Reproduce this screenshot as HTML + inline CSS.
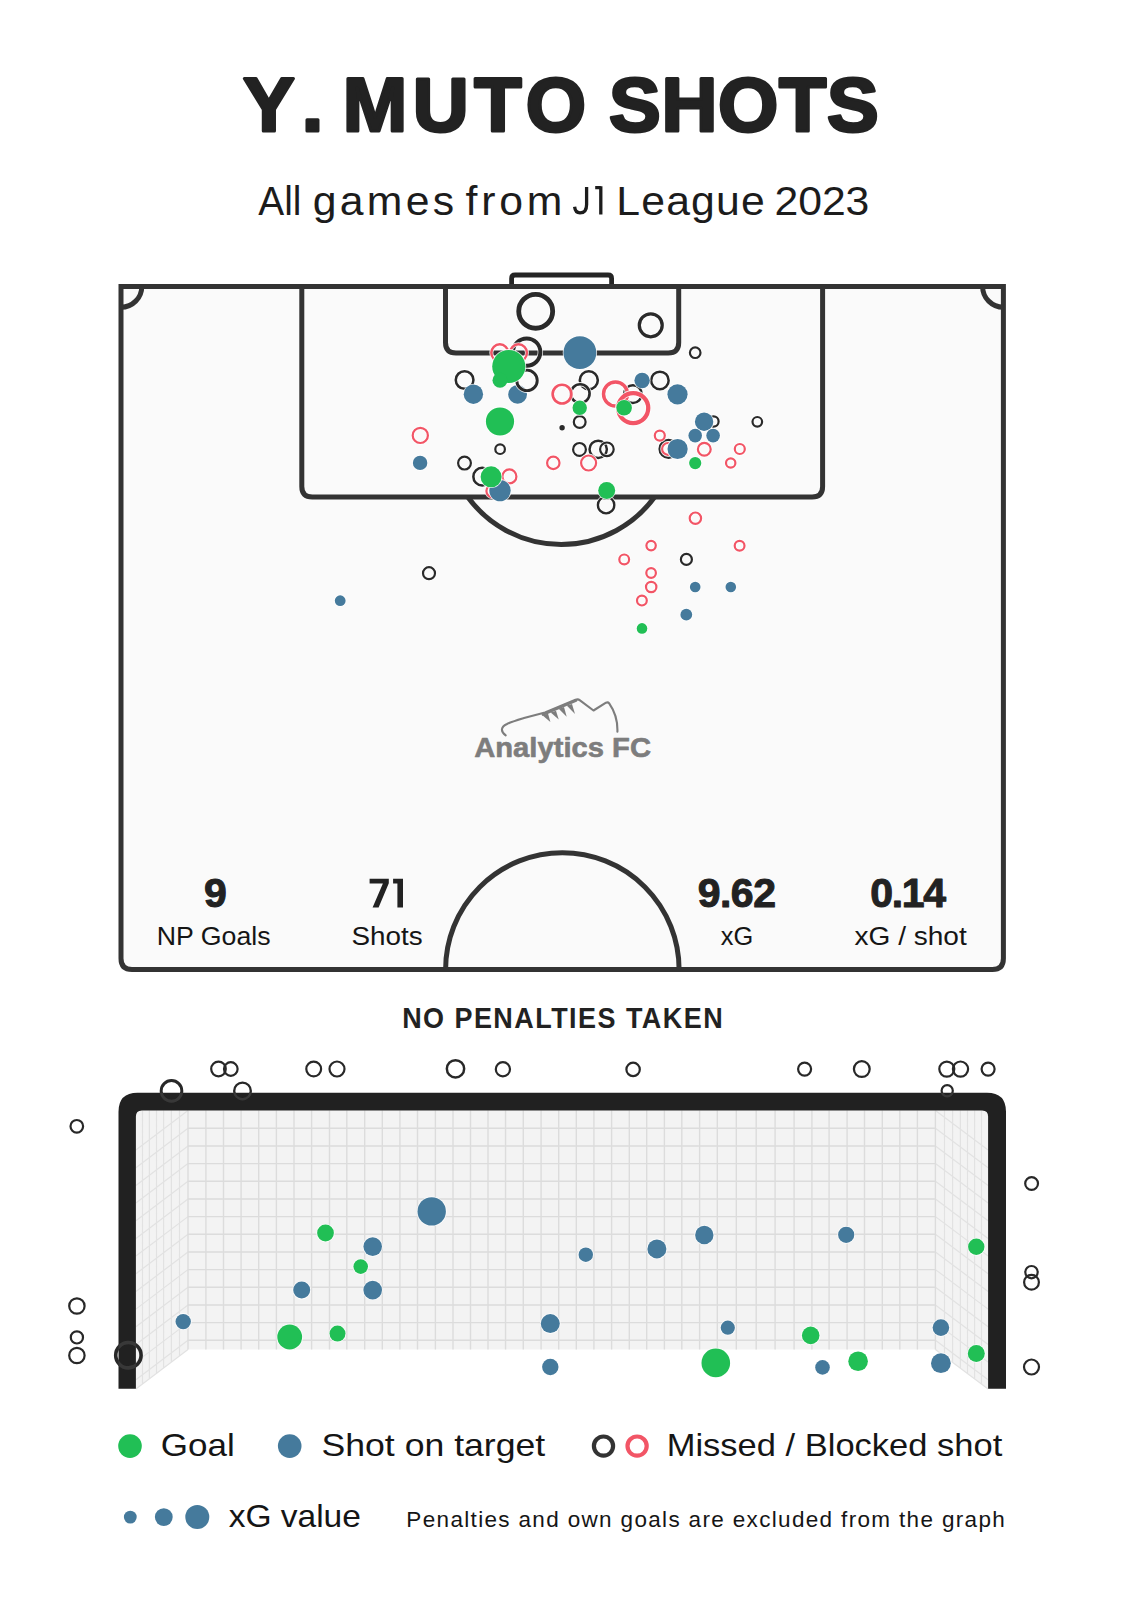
<!DOCTYPE html>
<html><head><meta charset="utf-8"><style>
html,body{margin:0;padding:0;background:#fff;}
body{width:1124px;height:1600px;overflow:hidden;font-family:"Liberation Sans",sans-serif;}
svg{display:block;}
</style></head><body>
<svg width="1124" height="1600" viewBox="0 0 1124 1600">
<rect width="1124" height="1600" fill="#ffffff"/>
<rect x="121.0" y="286.4" width="882.4" height="683.1" fill="#fafafa"/>
<path d="M511.6 286.4 V278.5 Q511.6 275 515.1 275 H608.1 Q611.6 275 611.6 278.5 V286.4" fill="none" stroke="#252525" stroke-width="4.8"/>
<path d="M121.0 286.4 H1003.4 V958.5 Q1003.4 969.5 992.4 969.5 H132.0 Q121.0 969.5 121.0 958.5 Z" fill="none" stroke="#333333" stroke-width="5.0" stroke-linejoin="miter"/>
<path d="M141.8 286.4 A20.8 20.8 0 0 1 121.0 307.2" fill="none" stroke="#333333" stroke-width="5.0"/>
<path d="M982.6 286.4 A20.8 20.8 0 0 0 1003.4 307.2" fill="none" stroke="#333333" stroke-width="5.0"/>
<path d="M301.8 286.4 V486.5 Q301.8 497 312.3 497 H812.1 Q822.6 497 822.6 486.5 V286.4" fill="none" stroke="#333333" stroke-width="5.0"/>
<path d="M445.5 286.4 V342.5 Q445.5 353 456.0 353 H668.2 Q678.7 353 678.7 342.5 V286.4" fill="none" stroke="#333333" stroke-width="5.0"/>
<path d="M467.8 497 A115.6 115.6 0 0 0 654.6 497" fill="none" stroke="#333333" stroke-width="5.0"/>
<path d="M445.6 969.5 A116.7 116.7 0 0 1 679.1 969.5" fill="none" stroke="#333333" stroke-width="5.0"/>
<g fill="none" stroke="#7d7d7d" stroke-width="2.1" stroke-linecap="round" stroke-linejoin="round"><path d="M505.7 735.4 C500.5 731.5 500.5 727 507 724 C512 721.5 518 719.8 524 718 L545 712.5 L575.5 699.8 Q578 698.8 580 700.3 L593.5 710.5 L606 702.7 Q608 701.8 609.2 703.4 C614.5 711 617.8 720 617.4 731.7"/><path d="M543 714.5 L576 700.5" stroke-width="2.8"/></g>
<g fill="#7d7d7d"><path d="M542.7 715.6 L548 713.5 L550.4 722 Z"/><path d="M550.7 712.4 L556 710.8 L558.7 719.4 Z"/><path d="M558.7 708.7 L564 707.1 L566.7 716.7 Z"/><path d="M566.7 705.5 L572 703.9 L575 714 Z"/></g>
<circle cx="535.7" cy="311.3" r="16.97" fill="none" stroke="#ffffff" stroke-opacity="0.85" stroke-width="6.45"/><circle cx="535.7" cy="311.3" r="16.97" fill="none" stroke="#2a2a2a" stroke-width="4.85"/>
<circle cx="650.75" cy="325.3" r="11.46" fill="none" stroke="#ffffff" stroke-opacity="0.85" stroke-width="4.88"/><circle cx="650.75" cy="325.3" r="11.46" fill="none" stroke="#2a2a2a" stroke-width="3.27"/>
<circle cx="695.2" cy="352.7" r="5.30" fill="none" stroke="#ffffff" stroke-opacity="0.85" stroke-width="3.80"/><circle cx="695.2" cy="352.7" r="5.30" fill="none" stroke="#2a2a2a" stroke-width="2.20"/>
<circle cx="526.7" cy="352.1" r="13.65" fill="none" stroke="#ffffff" stroke-opacity="0.85" stroke-width="5.50"/><circle cx="526.7" cy="352.1" r="13.65" fill="none" stroke="#2a2a2a" stroke-width="3.90"/>
<circle cx="464.6" cy="380" r="8.84" fill="none" stroke="#ffffff" stroke-opacity="0.85" stroke-width="4.12"/><circle cx="464.6" cy="380" r="8.84" fill="none" stroke="#2a2a2a" stroke-width="2.52"/>
<circle cx="588.8" cy="380.2" r="9.01" fill="none" stroke="#ffffff" stroke-opacity="0.85" stroke-width="4.18"/><circle cx="588.8" cy="380.2" r="9.01" fill="none" stroke="#2a2a2a" stroke-width="2.58"/>
<circle cx="580.2" cy="393.6" r="9.36" fill="none" stroke="#ffffff" stroke-opacity="0.85" stroke-width="4.28"/><circle cx="580.2" cy="393.6" r="9.36" fill="none" stroke="#2a2a2a" stroke-width="2.67"/>
<circle cx="579.7" cy="422" r="5.90" fill="none" stroke="#ffffff" stroke-opacity="0.85" stroke-width="3.80"/><circle cx="579.7" cy="422" r="5.90" fill="none" stroke="#2a2a2a" stroke-width="2.20"/>
<circle cx="562.1" cy="427.7" r="3.50" fill="#ffffff" fill-opacity="0.85"/><circle cx="562.1" cy="427.7" r="2.7" fill="#2a2a2a"/>
<circle cx="632.9" cy="394.1" r="8.84" fill="none" stroke="#ffffff" stroke-opacity="0.85" stroke-width="4.12"/><circle cx="632.9" cy="394.1" r="8.84" fill="none" stroke="#2a2a2a" stroke-width="2.52"/>
<circle cx="659.9" cy="380.4" r="8.75" fill="none" stroke="#ffffff" stroke-opacity="0.85" stroke-width="4.10"/><circle cx="659.9" cy="380.4" r="8.75" fill="none" stroke="#2a2a2a" stroke-width="2.50"/>
<circle cx="464.5" cy="463.1" r="6.40" fill="none" stroke="#ffffff" stroke-opacity="0.85" stroke-width="3.80"/><circle cx="464.5" cy="463.1" r="6.40" fill="none" stroke="#2a2a2a" stroke-width="2.20"/>
<circle cx="500.1" cy="449.2" r="4.80" fill="none" stroke="#ffffff" stroke-opacity="0.85" stroke-width="3.80"/><circle cx="500.1" cy="449.2" r="4.80" fill="none" stroke="#2a2a2a" stroke-width="2.20"/>
<circle cx="482.2" cy="476.7" r="8.84" fill="none" stroke="#ffffff" stroke-opacity="0.85" stroke-width="4.12"/><circle cx="482.2" cy="476.7" r="8.84" fill="none" stroke="#2a2a2a" stroke-width="2.52"/>
<circle cx="579.5" cy="449.4" r="6.40" fill="none" stroke="#ffffff" stroke-opacity="0.85" stroke-width="3.80"/><circle cx="579.5" cy="449.4" r="6.40" fill="none" stroke="#2a2a2a" stroke-width="2.20"/>
<circle cx="598.2" cy="449.3" r="8.66" fill="none" stroke="#ffffff" stroke-opacity="0.85" stroke-width="4.08"/><circle cx="598.2" cy="449.3" r="8.66" fill="none" stroke="#2a2a2a" stroke-width="2.48"/>
<circle cx="606.9" cy="449.3" r="6.80" fill="none" stroke="#ffffff" stroke-opacity="0.85" stroke-width="3.80"/><circle cx="606.9" cy="449.3" r="6.80" fill="none" stroke="#2a2a2a" stroke-width="2.20"/>
<circle cx="606.1" cy="505.1" r="8.22" fill="none" stroke="#ffffff" stroke-opacity="0.85" stroke-width="3.95"/><circle cx="606.1" cy="505.1" r="8.22" fill="none" stroke="#2a2a2a" stroke-width="2.35"/>
<circle cx="668.6" cy="448.9" r="8.92" fill="none" stroke="#ffffff" stroke-opacity="0.85" stroke-width="4.15"/><circle cx="668.6" cy="448.9" r="8.92" fill="none" stroke="#2a2a2a" stroke-width="2.55"/>
<circle cx="713.5" cy="421.5" r="5.10" fill="none" stroke="#ffffff" stroke-opacity="0.85" stroke-width="3.80"/><circle cx="713.5" cy="421.5" r="5.10" fill="none" stroke="#2a2a2a" stroke-width="2.20"/>
<circle cx="757.3" cy="421.8" r="4.80" fill="none" stroke="#ffffff" stroke-opacity="0.85" stroke-width="3.80"/><circle cx="757.3" cy="421.8" r="4.80" fill="none" stroke="#2a2a2a" stroke-width="2.20"/>
<circle cx="686.4" cy="559.4" r="5.50" fill="none" stroke="#ffffff" stroke-opacity="0.85" stroke-width="3.80"/><circle cx="686.4" cy="559.4" r="5.50" fill="none" stroke="#2a2a2a" stroke-width="2.20"/>
<circle cx="429" cy="573.2" r="6.00" fill="none" stroke="#ffffff" stroke-opacity="0.85" stroke-width="3.80"/><circle cx="429" cy="573.2" r="6.00" fill="none" stroke="#2a2a2a" stroke-width="2.20"/>
<circle cx="499.8" cy="352.8" r="8.49" fill="none" stroke="#ffffff" stroke-opacity="0.85" stroke-width="4.03"/><circle cx="499.8" cy="352.8" r="8.49" fill="none" stroke="#f25566" stroke-width="2.42"/>
<circle cx="518.5" cy="352.8" r="8.49" fill="none" stroke="#ffffff" stroke-opacity="0.85" stroke-width="4.03"/><circle cx="518.5" cy="352.8" r="8.49" fill="none" stroke="#f25566" stroke-width="2.42"/>
<circle cx="562" cy="394.1" r="9.36" fill="none" stroke="#ffffff" stroke-opacity="0.85" stroke-width="4.28"/><circle cx="562" cy="394.1" r="9.36" fill="none" stroke="#f25566" stroke-width="2.67"/>
<circle cx="615.5" cy="394" r="11.99" fill="none" stroke="#ffffff" stroke-opacity="0.85" stroke-width="5.03"/><circle cx="615.5" cy="394" r="11.99" fill="none" stroke="#f25566" stroke-width="3.42"/>
<circle cx="633.2" cy="408.1" r="15.05" fill="none" stroke="#ffffff" stroke-opacity="0.85" stroke-width="5.90"/><circle cx="633.2" cy="408.1" r="15.05" fill="none" stroke="#f25566" stroke-width="4.30"/>
<circle cx="420.3" cy="435.4" r="7.60" fill="none" stroke="#ffffff" stroke-opacity="0.85" stroke-width="3.80"/><circle cx="420.3" cy="435.4" r="7.60" fill="none" stroke="#f25566" stroke-width="2.20"/>
<circle cx="509.4" cy="476.4" r="7.00" fill="none" stroke="#ffffff" stroke-opacity="0.85" stroke-width="3.80"/><circle cx="509.4" cy="476.4" r="7.00" fill="none" stroke="#f25566" stroke-width="2.20"/>
<circle cx="492.8" cy="491" r="6.40" fill="none" stroke="#ffffff" stroke-opacity="0.85" stroke-width="3.80"/><circle cx="492.8" cy="491" r="6.40" fill="none" stroke="#f25566" stroke-width="2.20"/>
<circle cx="553.3" cy="462.9" r="6.20" fill="none" stroke="#ffffff" stroke-opacity="0.85" stroke-width="3.80"/><circle cx="553.3" cy="462.9" r="6.20" fill="none" stroke="#f25566" stroke-width="2.20"/>
<circle cx="588.6" cy="463" r="7.50" fill="none" stroke="#ffffff" stroke-opacity="0.85" stroke-width="3.80"/><circle cx="588.6" cy="463" r="7.50" fill="none" stroke="#f25566" stroke-width="2.20"/>
<circle cx="659.8" cy="435.6" r="5.00" fill="none" stroke="#ffffff" stroke-opacity="0.85" stroke-width="3.80"/><circle cx="659.8" cy="435.6" r="5.00" fill="none" stroke="#f25566" stroke-width="2.20"/>
<circle cx="668" cy="448.9" r="5.90" fill="none" stroke="#ffffff" stroke-opacity="0.85" stroke-width="3.80"/><circle cx="668" cy="448.9" r="5.90" fill="none" stroke="#f25566" stroke-width="2.20"/>
<circle cx="704.3" cy="449.3" r="6.40" fill="none" stroke="#ffffff" stroke-opacity="0.85" stroke-width="3.80"/><circle cx="704.3" cy="449.3" r="6.40" fill="none" stroke="#f25566" stroke-width="2.20"/>
<circle cx="739.8" cy="449" r="5.00" fill="none" stroke="#ffffff" stroke-opacity="0.85" stroke-width="3.80"/><circle cx="739.8" cy="449" r="5.00" fill="none" stroke="#f25566" stroke-width="2.20"/>
<circle cx="730.7" cy="463" r="4.70" fill="none" stroke="#ffffff" stroke-opacity="0.85" stroke-width="3.80"/><circle cx="730.7" cy="463" r="4.70" fill="none" stroke="#f25566" stroke-width="2.20"/>
<circle cx="695.4" cy="518.2" r="5.70" fill="none" stroke="#ffffff" stroke-opacity="0.85" stroke-width="3.80"/><circle cx="695.4" cy="518.2" r="5.70" fill="none" stroke="#f25566" stroke-width="2.20"/>
<circle cx="651.1" cy="545.6" r="4.70" fill="none" stroke="#ffffff" stroke-opacity="0.85" stroke-width="3.80"/><circle cx="651.1" cy="545.6" r="4.70" fill="none" stroke="#f25566" stroke-width="2.20"/>
<circle cx="739.6" cy="545.7" r="4.90" fill="none" stroke="#ffffff" stroke-opacity="0.85" stroke-width="3.80"/><circle cx="739.6" cy="545.7" r="4.90" fill="none" stroke="#f25566" stroke-width="2.20"/>
<circle cx="624.2" cy="559.4" r="4.90" fill="none" stroke="#ffffff" stroke-opacity="0.85" stroke-width="3.80"/><circle cx="624.2" cy="559.4" r="4.90" fill="none" stroke="#f25566" stroke-width="2.20"/>
<circle cx="651.1" cy="573" r="4.80" fill="none" stroke="#ffffff" stroke-opacity="0.85" stroke-width="3.80"/><circle cx="651.1" cy="573" r="4.80" fill="none" stroke="#f25566" stroke-width="2.20"/>
<circle cx="651.2" cy="587" r="5.20" fill="none" stroke="#ffffff" stroke-opacity="0.85" stroke-width="3.80"/><circle cx="651.2" cy="587" r="5.20" fill="none" stroke="#f25566" stroke-width="2.20"/>
<circle cx="641.9" cy="600.6" r="4.90" fill="none" stroke="#ffffff" stroke-opacity="0.85" stroke-width="3.80"/><circle cx="641.9" cy="600.6" r="4.90" fill="none" stroke="#f25566" stroke-width="2.20"/>
<circle cx="579.9" cy="352.7" r="17.20" fill="#ffffff" fill-opacity="0.85"/><circle cx="579.9" cy="352.7" r="16.4" fill="#457a9c"/>
<circle cx="473.4" cy="394.2" r="10.50" fill="#ffffff" fill-opacity="0.85"/><circle cx="473.4" cy="394.2" r="9.7" fill="#457a9c"/>
<circle cx="517.6" cy="394.4" r="10.20" fill="#ffffff" fill-opacity="0.85"/><circle cx="517.6" cy="394.4" r="9.4" fill="#457a9c"/>
<circle cx="642.1" cy="380.5" r="8.50" fill="#ffffff" fill-opacity="0.85"/><circle cx="642.1" cy="380.5" r="7.7" fill="#457a9c"/>
<circle cx="420.1" cy="462.9" r="8.00" fill="#ffffff" fill-opacity="0.85"/><circle cx="420.1" cy="462.9" r="7.2" fill="#457a9c"/>
<circle cx="500" cy="490.6" r="11.50" fill="#ffffff" fill-opacity="0.85"/><circle cx="500" cy="490.6" r="10.7" fill="#457a9c"/>
<circle cx="677.6" cy="449" r="10.90" fill="#ffffff" fill-opacity="0.85"/><circle cx="677.6" cy="449" r="10.1" fill="#457a9c"/>
<circle cx="677.5" cy="394.3" r="10.90" fill="#ffffff" fill-opacity="0.85"/><circle cx="677.5" cy="394.3" r="10.1" fill="#457a9c"/>
<circle cx="704.1" cy="421.8" r="10.00" fill="#ffffff" fill-opacity="0.85"/><circle cx="704.1" cy="421.8" r="9.2" fill="#457a9c"/>
<circle cx="695.2" cy="435.6" r="7.60" fill="#ffffff" fill-opacity="0.85"/><circle cx="695.2" cy="435.6" r="6.8" fill="#457a9c"/>
<circle cx="713.1" cy="435.6" r="7.60" fill="#ffffff" fill-opacity="0.85"/><circle cx="713.1" cy="435.6" r="6.8" fill="#457a9c"/>
<circle cx="695.2" cy="587" r="6.10" fill="#ffffff" fill-opacity="0.85"/><circle cx="695.2" cy="587" r="5.3" fill="#457a9c"/>
<circle cx="730.8" cy="587" r="6.10" fill="#ffffff" fill-opacity="0.85"/><circle cx="730.8" cy="587" r="5.3" fill="#457a9c"/>
<circle cx="686.3" cy="614.7" r="6.70" fill="#ffffff" fill-opacity="0.85"/><circle cx="686.3" cy="614.7" r="5.9" fill="#457a9c"/>
<circle cx="340.2" cy="600.7" r="6.20" fill="#ffffff" fill-opacity="0.85"/><circle cx="340.2" cy="600.7" r="5.4" fill="#457a9c"/>
<circle cx="527" cy="380.4" r="10.24" fill="none" stroke="#ffffff" stroke-opacity="0.85" stroke-width="4.53"/><circle cx="527" cy="380.4" r="10.24" fill="none" stroke="#2a2a2a" stroke-width="2.92"/>
<circle cx="508.8" cy="366.5" r="17.40" fill="#ffffff" fill-opacity="0.85"/><circle cx="508.8" cy="366.5" r="16.6" fill="#21bf55"/>
<circle cx="500" cy="421.5" r="14.90" fill="#ffffff" fill-opacity="0.85"/><circle cx="500" cy="421.5" r="14.1" fill="#21bf55"/>
<circle cx="579.7" cy="407.8" r="8.00" fill="#ffffff" fill-opacity="0.85"/><circle cx="579.7" cy="407.8" r="7.2" fill="#21bf55"/>
<circle cx="624.1" cy="407.8" r="8.60" fill="#ffffff" fill-opacity="0.85"/><circle cx="624.1" cy="407.8" r="7.8" fill="#21bf55"/>
<circle cx="491.1" cy="476.8" r="11.30" fill="#ffffff" fill-opacity="0.85"/><circle cx="491.1" cy="476.8" r="10.5" fill="#21bf55"/>
<circle cx="606.7" cy="490.5" r="9.30" fill="#ffffff" fill-opacity="0.85"/><circle cx="606.7" cy="490.5" r="8.5" fill="#21bf55"/>
<circle cx="695.2" cy="463.1" r="6.90" fill="#ffffff" fill-opacity="0.85"/><circle cx="695.2" cy="463.1" r="6.1" fill="#21bf55"/>
<circle cx="642" cy="628.4" r="6.10" fill="#ffffff" fill-opacity="0.85"/><circle cx="642" cy="628.4" r="5.3" fill="#21bf55"/>
<circle cx="500" cy="380.2" r="7.5" fill="#21bf55"/>
<path d="M135.9 1388.8 V1116.6 Q135.9 1110.6 141.9 1110.6 H982.1 Q988.1 1110.6 988.1 1116.6 V1388.8 L935.4 1349.6 H188 Z" fill="#f3f3f3"/>
<path d="M142.5 1110.6 V1384.09 M981.50 1110.6 V1384.09 M149.4 1110.6 V1378.86 M974.60 1110.6 V1378.86 M156.5 1110.6 V1373.48 M967.50 1110.6 V1373.48 M163.6 1110.6 V1368.10 M960.40 1110.6 V1368.10 M171.4 1110.6 V1362.18 M952.60 1110.6 V1362.18 M179.5 1110.6 V1356.04 M944.50 1110.6 V1356.04 M188 1340.30 L135.9 1379.79 M935.4 1340.30 L988.1 1379.79 M188 1322.63 L135.9 1362.12 M935.4 1322.63 L988.1 1362.12 M188 1304.96 L135.9 1344.45 M935.4 1304.96 L988.1 1344.45 M188 1287.29 L135.9 1326.78 M935.4 1287.29 L988.1 1326.78 M188 1269.62 L135.9 1309.11 M935.4 1269.62 L988.1 1309.11 M188 1251.95 L135.9 1291.44 M935.4 1251.95 L988.1 1291.44 M188 1234.28 L135.9 1273.77 M935.4 1234.28 L988.1 1273.77 M188 1216.61 L135.9 1256.10 M935.4 1216.61 L988.1 1256.10 M188 1198.94 L135.9 1238.43 M935.4 1198.94 L988.1 1238.43 M188 1181.27 L135.9 1220.76 M935.4 1181.27 L988.1 1220.76 M188 1163.60 L135.9 1203.09 M935.4 1163.60 L988.1 1203.09 M188 1145.93 L135.9 1185.42 M935.4 1145.93 L988.1 1185.42 M188 1128.26 L135.9 1167.75 M935.4 1128.26 L988.1 1167.75 M188 1110.60 L135.9 1150.09 M935.4 1110.60 L988.1 1150.09 M188 1349.6 L135.9 1389.09 M935.4 1349.6 L988.1 1389.09" stroke="#e2e2e2" stroke-width="1.2" fill="none"/>
<path d="M188 1110.6 V1349.6 M205.9 1110.6 V1349.6 M223.5 1110.6 V1349.6 M241.1 1110.6 V1349.6 M258.7 1110.6 V1349.6 M276.4 1110.6 V1349.6 M294 1110.6 V1349.6 M311.6 1110.6 V1349.6 M329.5 1110.6 V1349.6 M346.8 1110.6 V1349.6 M364.7 1110.6 V1349.6 M382.3 1110.6 V1349.6 M399.9 1110.6 V1349.6 M417.5 1110.6 V1349.6 M435.4 1110.6 V1349.6 M453 1110.6 V1349.6 M470.5 1110.6 V1349.6 M488 1110.6 V1349.6 M505.55 1110.6 V1349.6 M523.27 1110.6 V1349.6 M541.1 1110.6 V1349.6 M558.7 1110.6 V1349.6 M576.3 1110.6 V1349.6 M593.9 1110.6 V1349.6 M611.6 1110.6 V1349.6 M629.3 1110.6 V1349.6 M646.7 1110.6 V1349.6 M664.4 1110.6 V1349.6 M681.8 1110.6 V1349.6 M699.6 1110.6 V1349.6 M717.3 1110.6 V1349.6 M736.3 1110.6 V1349.6 M756.2 1110.6 V1349.6 M775.1 1110.6 V1349.6 M794.1 1110.6 V1349.6 M811.9 1110.6 V1349.6 M829.1 1110.6 V1349.6 M847.1 1110.6 V1349.6 M864.5 1110.6 V1349.6 M882.3 1110.6 V1349.6 M899.8 1110.6 V1349.6 M917.4 1110.6 V1349.6 M935.4 1110.6 V1349.6 M188 1340.30 H935.4 M188 1322.63 H935.4 M188 1304.96 H935.4 M188 1287.29 H935.4 M188 1269.62 H935.4 M188 1251.95 H935.4 M188 1234.28 H935.4 M188 1216.61 H935.4 M188 1198.94 H935.4 M188 1181.27 H935.4 M188 1163.60 H935.4 M188 1145.93 H935.4 M188 1128.26 H935.4" stroke="#dcdcdc" stroke-width="1.4" fill="none"/>
<path d="M118.5 1388.8 V1111.8 Q118.5 1092.8 137.5 1092.8 H987 Q1006 1092.8 1006 1111.8 V1388.8 H988.1 V1116.6 Q988.1 1110.6 982.1 1110.6 H141.9 Q135.9 1110.6 135.9 1116.6 V1388.8 Z" fill="#212121"/>
<clipPath id="fc"><path d="M118.5 1388.8 V1111.8 Q118.5 1092.8 137.5 1092.8 H987 Q1006 1092.8 1006 1111.8 V1388.8 H988.1 V1116.6 Q988.1 1110.6 982.1 1110.6 H141.9 Q135.9 1110.6 135.9 1116.6 V1388.8 Z"/></clipPath>
<circle cx="171.5" cy="1090.9" r="10.33" fill="none" stroke="#282828" stroke-width="2.95"/>
<circle cx="218.5" cy="1069" r="7.30" fill="none" stroke="#282828" stroke-width="2.20"/>
<circle cx="230.8" cy="1069" r="6.80" fill="none" stroke="#282828" stroke-width="2.20"/>
<circle cx="242.5" cy="1090.9" r="8.31" fill="none" stroke="#282828" stroke-width="2.38"/>
<circle cx="313.7" cy="1069" r="7.40" fill="none" stroke="#282828" stroke-width="2.20"/>
<circle cx="337" cy="1069" r="7.50" fill="none" stroke="#282828" stroke-width="2.20"/>
<circle cx="455.5" cy="1068.8" r="8.66" fill="none" stroke="#282828" stroke-width="2.48"/>
<circle cx="502.9" cy="1069.2" r="7.10" fill="none" stroke="#282828" stroke-width="2.20"/>
<circle cx="633.1" cy="1069.4" r="6.70" fill="none" stroke="#282828" stroke-width="2.20"/>
<circle cx="804.6" cy="1069.1" r="6.50" fill="none" stroke="#282828" stroke-width="2.20"/>
<circle cx="861.8" cy="1069.1" r="7.88" fill="none" stroke="#282828" stroke-width="2.25"/>
<circle cx="946.8" cy="1069.1" r="7.50" fill="none" stroke="#282828" stroke-width="2.20"/>
<circle cx="960.5" cy="1069.1" r="7.60" fill="none" stroke="#282828" stroke-width="2.20"/>
<circle cx="988.1" cy="1069.1" r="6.50" fill="none" stroke="#282828" stroke-width="2.20"/>
<circle cx="947.2" cy="1090.8" r="5.60" fill="none" stroke="#282828" stroke-width="2.20"/>
<circle cx="76.8" cy="1126.3" r="6.30" fill="none" stroke="#282828" stroke-width="2.20"/>
<circle cx="76.9" cy="1306" r="7.70" fill="none" stroke="#282828" stroke-width="2.20"/>
<circle cx="76.9" cy="1337.4" r="6.10" fill="none" stroke="#282828" stroke-width="2.20"/>
<circle cx="76.9" cy="1355.5" r="7.70" fill="none" stroke="#282828" stroke-width="2.20"/>
<circle cx="128.4" cy="1355.2" r="12.69" fill="none" stroke="#282828" stroke-width="3.62"/>
<circle cx="1031.6" cy="1183.5" r="6.40" fill="none" stroke="#282828" stroke-width="2.20"/>
<circle cx="1031.5" cy="1272.2" r="6.20" fill="none" stroke="#282828" stroke-width="2.20"/>
<circle cx="1031.5" cy="1282.3" r="7.40" fill="none" stroke="#282828" stroke-width="2.20"/>
<circle cx="1031.5" cy="1367" r="7.50" fill="none" stroke="#282828" stroke-width="2.20"/>
<g clip-path="url(#fc)">
<circle cx="171.5" cy="1090.9" r="10.33" fill="none" stroke="#383838" stroke-width="2.95"/>
<circle cx="218.5" cy="1069" r="7.30" fill="none" stroke="#383838" stroke-width="2.20"/>
<circle cx="230.8" cy="1069" r="6.80" fill="none" stroke="#383838" stroke-width="2.20"/>
<circle cx="242.5" cy="1090.9" r="8.31" fill="none" stroke="#383838" stroke-width="2.38"/>
<circle cx="313.7" cy="1069" r="7.40" fill="none" stroke="#383838" stroke-width="2.20"/>
<circle cx="337" cy="1069" r="7.50" fill="none" stroke="#383838" stroke-width="2.20"/>
<circle cx="455.5" cy="1068.8" r="8.66" fill="none" stroke="#383838" stroke-width="2.48"/>
<circle cx="502.9" cy="1069.2" r="7.10" fill="none" stroke="#383838" stroke-width="2.20"/>
<circle cx="633.1" cy="1069.4" r="6.70" fill="none" stroke="#383838" stroke-width="2.20"/>
<circle cx="804.6" cy="1069.1" r="6.50" fill="none" stroke="#383838" stroke-width="2.20"/>
<circle cx="861.8" cy="1069.1" r="7.88" fill="none" stroke="#383838" stroke-width="2.25"/>
<circle cx="946.8" cy="1069.1" r="7.50" fill="none" stroke="#383838" stroke-width="2.20"/>
<circle cx="960.5" cy="1069.1" r="7.60" fill="none" stroke="#383838" stroke-width="2.20"/>
<circle cx="988.1" cy="1069.1" r="6.50" fill="none" stroke="#383838" stroke-width="2.20"/>
<circle cx="947.2" cy="1090.8" r="5.60" fill="none" stroke="#383838" stroke-width="2.20"/>
<circle cx="76.8" cy="1126.3" r="6.30" fill="none" stroke="#383838" stroke-width="2.20"/>
<circle cx="76.9" cy="1306" r="7.70" fill="none" stroke="#383838" stroke-width="2.20"/>
<circle cx="76.9" cy="1337.4" r="6.10" fill="none" stroke="#383838" stroke-width="2.20"/>
<circle cx="76.9" cy="1355.5" r="7.70" fill="none" stroke="#383838" stroke-width="2.20"/>
<circle cx="128.4" cy="1355.2" r="12.69" fill="none" stroke="#383838" stroke-width="3.62"/>
<circle cx="1031.6" cy="1183.5" r="6.40" fill="none" stroke="#383838" stroke-width="2.20"/>
<circle cx="1031.5" cy="1272.2" r="6.20" fill="none" stroke="#383838" stroke-width="2.20"/>
<circle cx="1031.5" cy="1282.3" r="7.40" fill="none" stroke="#383838" stroke-width="2.20"/>
<circle cx="1031.5" cy="1367" r="7.50" fill="none" stroke="#383838" stroke-width="2.20"/>
</g>
<circle cx="183.2" cy="1321.6" r="8.50" fill="#ffffff" fill-opacity="0.85"/><circle cx="183.2" cy="1321.6" r="7.7" fill="#457a9c"/>
<circle cx="372.7" cy="1246.6" r="10.10" fill="#ffffff" fill-opacity="0.85"/><circle cx="372.7" cy="1246.6" r="9.3" fill="#457a9c"/>
<circle cx="301.7" cy="1290.1" r="9.30" fill="#ffffff" fill-opacity="0.85"/><circle cx="301.7" cy="1290.1" r="8.5" fill="#457a9c"/>
<circle cx="372.7" cy="1290.1" r="10.10" fill="#ffffff" fill-opacity="0.85"/><circle cx="372.7" cy="1290.1" r="9.3" fill="#457a9c"/>
<circle cx="431.7" cy="1211.4" r="15.00" fill="#ffffff" fill-opacity="0.85"/><circle cx="431.7" cy="1211.4" r="14.2" fill="#457a9c"/>
<circle cx="585.8" cy="1254.7" r="8.00" fill="#ffffff" fill-opacity="0.85"/><circle cx="585.8" cy="1254.7" r="7.2" fill="#457a9c"/>
<circle cx="656.9" cy="1248.9" r="10.30" fill="#ffffff" fill-opacity="0.85"/><circle cx="656.9" cy="1248.9" r="9.5" fill="#457a9c"/>
<circle cx="704.3" cy="1235" r="10.00" fill="#ffffff" fill-opacity="0.85"/><circle cx="704.3" cy="1235" r="9.2" fill="#457a9c"/>
<circle cx="550.3" cy="1323.6" r="10.30" fill="#ffffff" fill-opacity="0.85"/><circle cx="550.3" cy="1323.6" r="9.5" fill="#457a9c"/>
<circle cx="727.8" cy="1327.7" r="7.90" fill="#ffffff" fill-opacity="0.85"/><circle cx="727.8" cy="1327.7" r="7.1" fill="#457a9c"/>
<circle cx="550.3" cy="1367" r="9.00" fill="#ffffff" fill-opacity="0.85"/><circle cx="550.3" cy="1367" r="8.2" fill="#457a9c"/>
<circle cx="846.2" cy="1234.8" r="8.90" fill="#ffffff" fill-opacity="0.85"/><circle cx="846.2" cy="1234.8" r="8.1" fill="#457a9c"/>
<circle cx="940.9" cy="1327.6" r="9.10" fill="#ffffff" fill-opacity="0.85"/><circle cx="940.9" cy="1327.6" r="8.3" fill="#457a9c"/>
<circle cx="822.5" cy="1367.4" r="8.10" fill="#ffffff" fill-opacity="0.85"/><circle cx="822.5" cy="1367.4" r="7.3" fill="#457a9c"/>
<circle cx="940.9" cy="1363.2" r="10.70" fill="#ffffff" fill-opacity="0.85"/><circle cx="940.9" cy="1363.2" r="9.9" fill="#457a9c"/>
<circle cx="325.5" cy="1233" r="9.20" fill="#ffffff" fill-opacity="0.85"/><circle cx="325.5" cy="1233" r="8.4" fill="#21bf55"/>
<circle cx="360.7" cy="1266.6" r="8.10" fill="#ffffff" fill-opacity="0.85"/><circle cx="360.7" cy="1266.6" r="7.3" fill="#21bf55"/>
<circle cx="289.7" cy="1337" r="13.20" fill="#ffffff" fill-opacity="0.85"/><circle cx="289.7" cy="1337" r="12.4" fill="#21bf55"/>
<circle cx="337.5" cy="1333.6" r="8.80" fill="#ffffff" fill-opacity="0.85"/><circle cx="337.5" cy="1333.6" r="8" fill="#21bf55"/>
<circle cx="715.8" cy="1362.9" r="15.10" fill="#ffffff" fill-opacity="0.85"/><circle cx="715.8" cy="1362.9" r="14.3" fill="#21bf55"/>
<circle cx="976.3" cy="1246.8" r="9.00" fill="#ffffff" fill-opacity="0.85"/><circle cx="976.3" cy="1246.8" r="8.2" fill="#21bf55"/>
<circle cx="810.7" cy="1335.4" r="9.60" fill="#ffffff" fill-opacity="0.85"/><circle cx="810.7" cy="1335.4" r="8.8" fill="#21bf55"/>
<circle cx="858.1" cy="1361.3" r="10.60" fill="#ffffff" fill-opacity="0.85"/><circle cx="858.1" cy="1361.3" r="9.8" fill="#21bf55"/>
<circle cx="976.3" cy="1353.5" r="9.30" fill="#ffffff" fill-opacity="0.85"/><circle cx="976.3" cy="1353.5" r="8.5" fill="#21bf55"/>
<circle cx="130" cy="1446.1" r="11.8" fill="#21bf55"/>
<circle cx="289.7" cy="1446.1" r="11.8" fill="#457a9c"/>
<circle cx="603.5" cy="1446.1" r="9.60" fill="none" stroke="#333" stroke-width="4.20"/>
<circle cx="637.1" cy="1446.1" r="9.60" fill="none" stroke="#f25566" stroke-width="4.20"/>
<circle cx="130.3" cy="1517.1" r="6.4" fill="#457a9c"/>
<circle cx="163.8" cy="1517.1" r="8.9" fill="#457a9c"/>
<circle cx="197.3" cy="1517.1" r="12" fill="#457a9c"/>
<text x="0" y="0" transform="translate(243.1,130.5) scale(1.02,1)" font-family="Liberation Sans" font-weight="bold" font-size="76" fill="#222" textLength="78.7" lengthAdjust="spacing" stroke="#222" stroke-width="3.0" stroke-linejoin="round">Y.</text>
<text x="0" y="0" transform="translate(342.7,130.5) scale(1.02,1)" font-family="Liberation Sans" font-weight="bold" font-size="76" fill="#222" textLength="238.58" lengthAdjust="spacing" stroke="#222" stroke-width="3.0" stroke-linejoin="round">MUTO</text>
<text x="0" y="0" transform="translate(609.06,130.5) scale(1.02,1)" font-family="Liberation Sans" font-weight="bold" font-size="76" fill="#222" textLength="264.36" lengthAdjust="spacing" stroke="#222" stroke-width="3.0" stroke-linejoin="round">SHOTS</text>
<text x="0" y="0" transform="translate(203.9,906.5) scale(1.0,1)" font-family="Liberation Sans" font-weight="bold" font-size="41" fill="#222" textLength="30" lengthAdjust="spacing" stroke="#222" stroke-width="1.0" stroke-linejoin="round">9</text>
<text x="0" y="0" transform="translate(697.7,906.5) scale(1.0,1)" font-family="Liberation Sans" font-weight="bold" font-size="41" fill="#222" textLength="78.25" lengthAdjust="spacing" stroke="#222" stroke-width="1.0" stroke-linejoin="round">9.62</text>
<text x="0" y="0" transform="translate(870.2,906.5) scale(1.0,1)" font-family="Liberation Sans" font-weight="bold" font-size="41" fill="#222" textLength="75.75" lengthAdjust="spacing" stroke="#222" stroke-width="1.0" stroke-linejoin="round">0.14</text>
<text x="0" y="0" transform="translate(156.81,944.7) scale(1.0,1)" font-family="Liberation Sans" font-weight="normal" font-size="25.5" fill="#151515" textLength="113.73" lengthAdjust="spacingAndGlyphs">NP Goals</text>
<text x="0" y="0" transform="translate(351.42,944.7) scale(1.0,1)" font-family="Liberation Sans" font-weight="normal" font-size="25.5" fill="#151515" textLength="71.14" lengthAdjust="spacingAndGlyphs">Shots</text>
<text x="0" y="0" transform="translate(720.8,944.7) scale(1.0,1)" font-family="Liberation Sans" font-weight="normal" font-size="25.5" fill="#151515" textLength="32.45" lengthAdjust="spacingAndGlyphs">xG</text>
<text x="0" y="0" transform="translate(854.5,944.7) scale(1.0,1)" font-family="Liberation Sans" font-weight="normal" font-size="25.5" fill="#151515" textLength="112.26" lengthAdjust="spacingAndGlyphs">xG / shot</text>
<text x="0" y="0" transform="translate(402.14,1027.9) scale(0.93,1)" font-family="Liberation Sans" font-weight="bold" font-size="29" fill="#222" textLength="344.69" lengthAdjust="spacing">NO PENALTIES TAKEN</text>
<text x="0" y="0" transform="translate(160.78,1456.2) scale(1.0,1)" font-family="Liberation Sans" font-weight="normal" font-size="31.5" fill="#151515" textLength="73.94" lengthAdjust="spacingAndGlyphs">Goal</text>
<text x="0" y="0" transform="translate(321.43,1456.2) scale(1.0,1)" font-family="Liberation Sans" font-weight="normal" font-size="31.5" fill="#151515" textLength="223.84" lengthAdjust="spacingAndGlyphs">Shot on target</text>
<text x="0" y="0" transform="translate(666.71,1456.2) scale(1.0,1)" font-family="Liberation Sans" font-weight="normal" font-size="31.5" fill="#151515" textLength="335.52" lengthAdjust="spacingAndGlyphs">Missed / Blocked shot</text>
<text x="0" y="0" transform="translate(228.63,1526.9) scale(1.0,1)" font-family="Liberation Sans" font-weight="normal" font-size="31.5" fill="#151515" textLength="132.28" lengthAdjust="spacingAndGlyphs">xG value</text>
<text x="0" y="0" transform="translate(406.35,1526.8) scale(1.0,1)" font-family="Liberation Sans" font-weight="normal" font-size="22.5" fill="#151515" textLength="598.43" lengthAdjust="spacing">Penalties and own goals are excluded from the graph</text>
<text x="0" y="0" transform="translate(474.2,757) scale(1.0,1)" font-family="Liberation Sans" font-weight="bold" font-size="27.5" fill="#7d7d7d" textLength="176.77" lengthAdjust="spacingAndGlyphs" stroke="#7d7d7d" stroke-width="0.6" stroke-linejoin="round">Analytics FC</text>
<text x="0" y="0" transform="translate(258.3,214.8) scale(1.0,1)" font-family="Liberation Sans" font-weight="normal" font-size="41.5" fill="#1c1c1c" textLength="43.18" lengthAdjust="spacingAndGlyphs">All</text>
<text x="0" y="0" transform="translate(312.8,214.8) scale(1.03,1)" font-family="Liberation Sans" font-weight="normal" font-size="41.5" fill="#1c1c1c" textLength="137.22" lengthAdjust="spacing">games</text>
<text x="0" y="0" transform="translate(465.5,214.8) scale(1.03,1)" font-family="Liberation Sans" font-weight="normal" font-size="41.5" fill="#1c1c1c" textLength="93.95" lengthAdjust="spacing">from</text>
<text x="0" y="0" transform="translate(616.3,214.8) scale(1.03,1)" font-family="Liberation Sans" font-weight="normal" font-size="41.5" fill="#1c1c1c" textLength="144.05" lengthAdjust="spacing">League</text>
<text x="0" y="0" transform="translate(774.5,214.8) scale(1.03,1)" font-family="Liberation Sans" font-weight="normal" font-size="41.5" fill="#1c1c1c" textLength="92.13" lengthAdjust="spacing">2023</text>
<path d="M586.6 186.9 V204.5 Q586.6 212.9 580 212.9 Q575.3 212.9 574.6 206.8 M595.2 187.6 H600.8 M600.8 186.3 V214.6" fill="none" stroke="#1c1c1c" stroke-width="3.3"/>
<path d="M393.1 878.8 H403 V907.4 H397.4 V883.6 H393.1 Z M369.6 878.8 H388.8 V883.2 L378.6 907.4 H372.6 L382.9 883.6 H369.6 Z" fill="#222"/>
</svg>
</body></html>
